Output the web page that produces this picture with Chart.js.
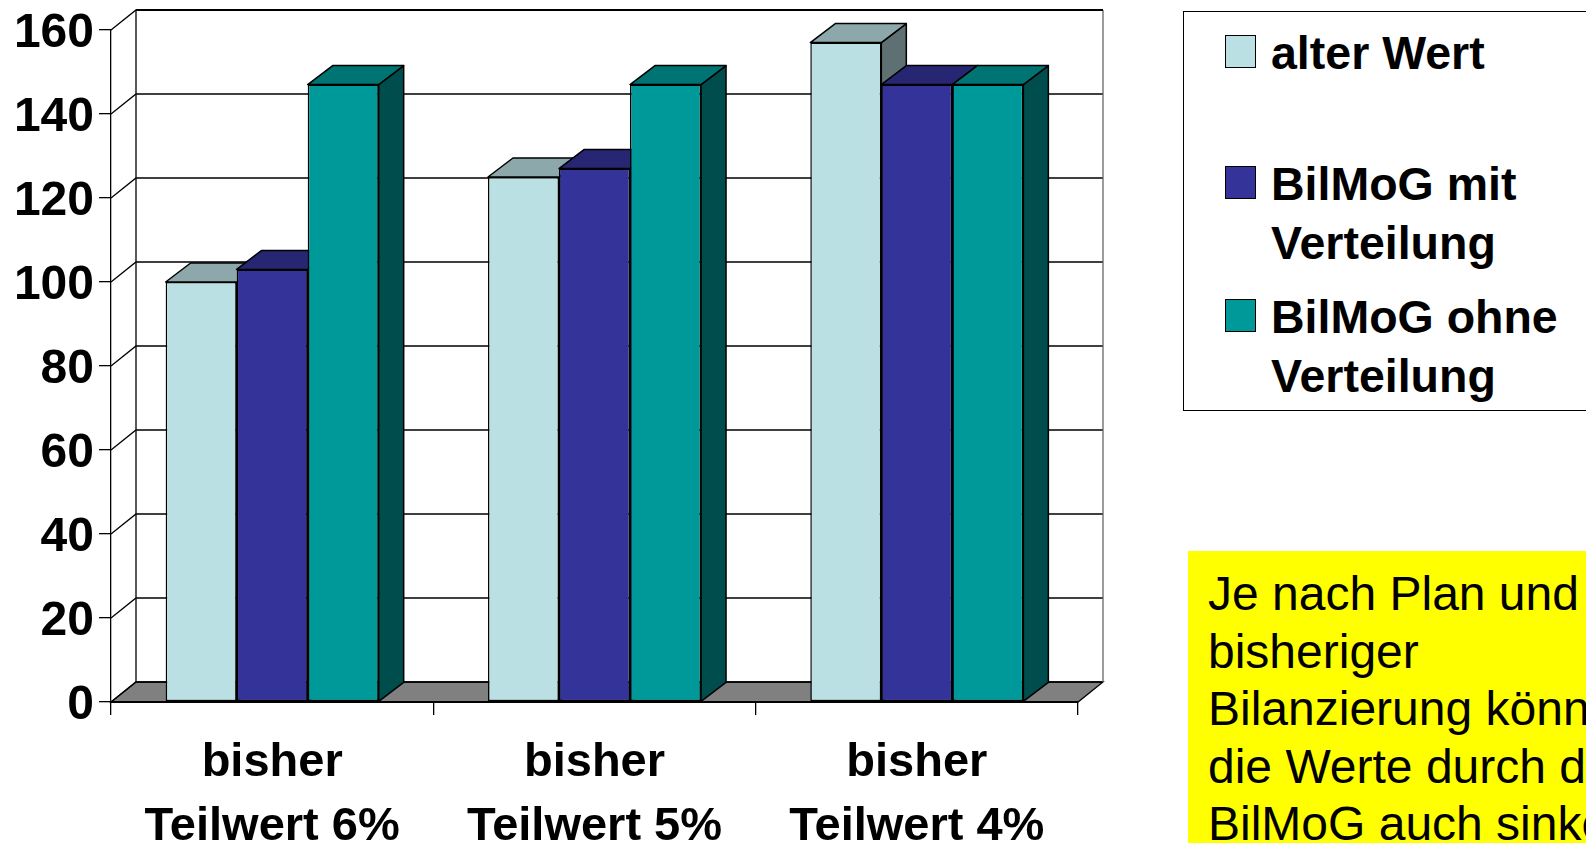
<!DOCTYPE html>
<html>
<head>
<meta charset="utf-8">
<title>BilMoG</title>
<script src="https://cdn.jsdelivr.net/npm/chart.js@4/dist/chart.umd.min.js"></script>
<style>
  html, body { margin: 0; padding: 0; background: #fff; overflow: hidden; }
  body { position: relative; width: 1586px; height: 843px; font-family: "Liberation Sans", Arial, sans-serif; color: #000; }
  canvas { position: absolute; left: 0; top: 0; }
  #legend {
    position: absolute; left: 1183px; top: 11px; width: 420px; height: 400px;
    border: 1.5px solid #000; background: #fff; box-sizing: border-box;
  }
  .entry {
    position: absolute; left: 87px; font-size: 46.5px; font-weight: bold;
    line-height: 59px; white-space: pre;
  }
  .swatch {
    position: absolute; left: -46px; top: 11px; width: 31px; height: 33px;
    border: 1.5px solid #000; box-sizing: border-box;
  }
  #note {
    position: absolute; left: 1188px; top: 551px; width: 420px; height: 300px;
    background: #ff0; font-size: 48px; line-height: 57.5px; white-space: pre;
  }
  #note span { position: absolute; left: 20px; top: 14px; }
</style>
</head>
<body>
<canvas id="chart" width="1586" height="843"></canvas>
<div id="legend"></div>
<div id="note"><span>Je nach Plan und
bisheriger
Bilanzierung können
die Werte durch das
BilMoG auch sinken.</span></div>

<script>
// Chart data
const categories = [
  ['bisher', 'Teilwert 6%'],
  ['bisher', 'Teilwert 5%'],
  ['bisher', 'Teilwert 4%']
]
const seriesNames = ['alter Wert', 'BilMoG mit\nVerteilung', 'BilMoG ohne\nVerteilung']
const alterWert = [100, 125, 157]
const mitVerteilung = [103, 127, 147]
const ohneVerteilung = [147, 147, 147]
const seriesColors = ['#BBE0E3', '#333399', '#009999']
const legendTops = [12, 143, 276]

// Offset of the back wall and of the bar depth
const WALL_DX = 25
const WALL_DY = 20
const BAR_DX = 25
const BAR_DY = 19

function shade(hex, factor) {
  const n = parseInt(hex.slice(1), 16)
  const r = Math.round((n >> 16) * factor)
  const g = Math.round(((n >> 8) & 255) * factor)
  const b = Math.round((n & 255) * factor)
  return `rgb(${r}, ${g}, ${b})`
}

function polygon(ctx, points, fill) {
  ctx.beginPath()
  points.forEach((p, i) => (i ? ctx.lineTo(p[0], p[1]) : ctx.moveTo(p[0], p[1])))
  ctx.closePath()
  if (fill) {
    ctx.fillStyle = fill
    ctx.fill()
  }
  ctx.stroke()
}

// Back wall, floor and the gridlines running around them
const wallPlugin = {
  id: 'wall',
  beforeDraw(chart) {
    const { ctx, chartArea, scales } = chart
    const { left, right, top, bottom } = chartArea
    ctx.save()
    ctx.strokeStyle = '#000'
    ctx.lineWidth = 1.3

    polygon(ctx, [
      [left, bottom],
      [right, bottom],
      [right + WALL_DX, bottom - WALL_DY],
      [left + WALL_DX, bottom - WALL_DY]
    ], '#808080')

    scales.y.ticks.forEach(tick => {
      const y = scales.y.getPixelForValue(tick.value)
      ctx.beginPath()
      ctx.moveTo(left, y)
      ctx.lineTo(left + WALL_DX, y - WALL_DY)
      ctx.lineTo(right + WALL_DX, y - WALL_DY)
      ctx.stroke()
    })

    ctx.beginPath()
    ctx.moveTo(left + WALL_DX, bottom - WALL_DY)
    ctx.lineTo(left + WALL_DX, top - WALL_DY)
    ctx.stroke()

    ctx.strokeStyle = '#666'
    ctx.beginPath()
    ctx.moveTo(right + WALL_DX, top - WALL_DY)
    ctx.lineTo(right + WALL_DX, bottom - WALL_DY)
    ctx.stroke()

    ctx.strokeStyle = '#000'
    ctx.lineWidth = 2
    ctx.beginPath()
    ctx.moveTo(left + WALL_DX, top - WALL_DY)
    ctx.lineTo(right + WALL_DX, top - WALL_DY)
    ctx.stroke()
    ctx.restore()
  }
}

// Paints the series left to right so each bar covers the depth of its left neighbour
const depthPlugin = {
  id: 'depth',
  beforeDatasetsDraw(chart) {
    const { ctx } = chart
    chart.getSortedVisibleDatasetMetas().forEach(meta => {
      const color = seriesColors[meta.index]
      ctx.save()
      ctx.strokeStyle = '#000'
      ctx.lineWidth = 1.5
      ctx.lineJoin = 'round'
      meta.data.forEach(bar => {
        const { x, y, width, base } = bar.getProps(['x', 'y', 'width', 'base'], true)
        const l = x - width / 2
        const r = x + width / 2
        polygon(ctx, [
          [r, y],
          [r + BAR_DX, y - BAR_DY],
          [r + BAR_DX, base - BAR_DY],
          [r, base]
        ], shade(color, 0.5))
        polygon(ctx, [
          [l, y],
          [l + BAR_DX, y - BAR_DY],
          [r + BAR_DX, y - BAR_DY],
          [r, y]
        ], shade(color, 0.75))
      })
      ctx.restore()
      meta.controller.draw()
    })
    return false
  }
}

const tickFont = { family: '"Liberation Sans", Arial, sans-serif', size: 48, weight: 'bold' }

new Chart(document.getElementById('chart'), {
  type: 'bar',
  data: {
    labels: categories,
    datasets: [alterWert, mitVerteilung, ohneVerteilung].map((values, i) => ({
      label: seriesNames[i],
      data: values,
      backgroundColor: seriesColors[i],
      borderColor: '#000',
      borderWidth: 1.5,
      borderSkipped: false,
      categoryPercentage: 0.661,
      barPercentage: 1
    }))
  },
  options: {
    responsive: false,
    animation: false,
    layout: {
      autoPadding: false,
      padding: { left: 0, top: 30, right: 508, bottom: 0 }
    },
    plugins: {
      legend: { display: false },
      title: { display: false },
      tooltip: { enabled: false }
    },
    scales: {
      x: {
        afterFit(scale) { scale.height = 141 },
        grid: { drawOnChartArea: false, color: '#000', lineWidth: 1.3, tickLength: 13 },
        border: { color: '#000', width: 2 },
        ticks: {
          color: '#000',
          font: { ...tickFont, size: 47, lineHeight: 64 / 47 },
          padding: 16,
          maxRotation: 0,
          autoSkip: false
        }
      },
      y: {
        min: 0,
        max: 160,
        afterFit(scale) { scale.width = 111 },
        grid: { drawOnChartArea: false, color: '#000', lineWidth: 1.3, tickLength: 12 },
        border: { color: '#000', width: 1.3 },
        // the small line height keeps the top label from pushing the plot down
        ticks: { color: '#000', font: { ...tickFont, lineHeight: 0.9 }, stepSize: 20, padding: 5, labelOffset: 4 }
      }
    }
  },
  plugins: [wallPlugin, depthPlugin]
})

// Legend box next to the chart
const legend = document.getElementById('legend')
seriesNames.forEach((name, i) => {
  const entry = document.createElement('div')
  entry.className = 'entry'
  entry.style.top = legendTops[i] + 'px'
  entry.textContent = name
  const swatch = document.createElement('div')
  swatch.className = 'swatch'
  swatch.style.background = seriesColors[i]
  entry.appendChild(swatch)
  legend.appendChild(entry)
})
</script>
</body>
</html>
